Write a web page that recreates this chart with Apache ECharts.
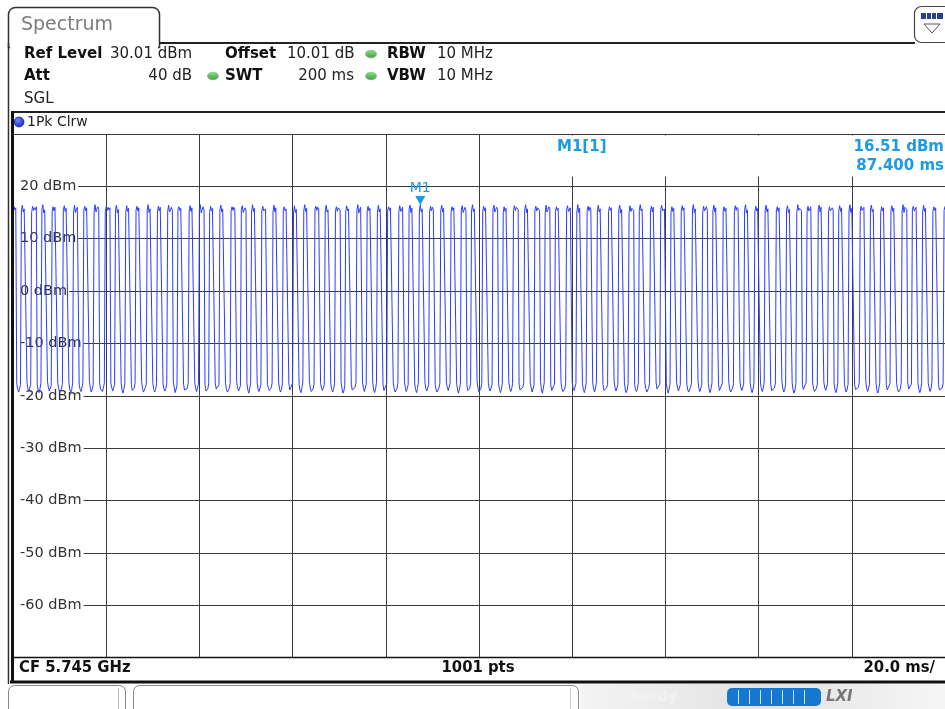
<!DOCTYPE html>
<html>
<head>
<meta charset="utf-8">
<script src="https://cdn.jsdelivr.net/npm/echarts@6/dist/echarts.min.js"></script>
<style>
html,body{margin:0;padding:0;background:#fff;}
#chart{width:945px;height:709px;}
</style>
</head>
<body>
<div id="chart"></div>
<script>
// ---- Data ----
const sweepTimeMs = 200;          // 10 div x 20.0 ms/
const sweepPoints = 1001;         // "1001 pts"
const yTicksDbm = [-70, -60, -50, -40, -30, -20, -10, 0, 10, 20, 30];
const xTicksMs = [0, 20, 40, 60, 80, 100, 120, 140, 160, 180, 200];
const markerTimeMs = 87.4;
const markerLevelDbm = 16.51;
const headerLabels = ['Ref Level', 'Offset', 'RBW', 'Att', 'SWT', 'VBW', 'SGL'];
const headerValues = ['30.01 dBm', '10.01 dB', '10 MHz', '40 dB', '200 ms', '10 MHz'];
const footerLabels = ['CF 5.745 GHz', '1001 pts', '20.0 ms/'];
// Trace 1 (1Pk Clrw), dBm, one sweep point per entry
const traceDbm = [
15.8,16.2,15.5,15.9,-17.6,-18.8,-19.3,-18.7,-17.9,
15.3,16.4,15.1,15.7,16.0,15.6,-17.4,-18.7,-19.2,-18.9,-17.8,
15.0,16.2,15.4,15.9,15.5,16.1,-17.9,-19.0,-19.4,-18.6,-17.5,
15.6,16.5,14.9,15.5,15.8,15.4,-17.2,-18.5,-19.1,-19.0,-18.1,
15.2,16.1,15.3,16.0,15.7,15.9,-17.6,-18.6,-19.3,-19.1,-18.7,-17.7,
15.4,16.3,15.2,15.8,15.9,15.5,-17.5,-18.9,-19.4,-18.8,-17.6,
15.1,16.4,15.0,15.6,16.0,15.7,-17.8,-18.8,-19.2,-18.5,-17.4,
15.5,16.2,15.3,15.9,15.6,15.8,-17.3,-18.6,-19.3,-19.1,-18.0,
15.3,16.5,15.1,15.7,16.1,15.6,-17.7,-18.7,-19.0,-19.2,-18.5,-17.6,
15.2,16.1,15.4,16.0,15.5,15.9,-17.6,-18.5,-19.1,-18.9,-17.9,
15.6,16.4,14.9,15.6,15.8,15.5,-17.4,-18.9,-19.5,-18.7,-17.7,
15.0,16.3,15.2,15.8,16.0,15.7,-17.9,-19.0,-19.2,-18.6,-17.5,
15.4,16.2,15.3,15.9,15.6,16.0,-17.3,-18.6,-19.3,-19.0,-18.4,-17.8,
15.5,16.5,15.0,15.7,15.9,15.6,-17.5,-18.8,-19.3,-18.8,-17.7,
15.1,16.2,15.3,16.0,15.7,15.8,-17.7,-18.7,-19.1,-18.6,-17.6,
15.3,16.4,15.1,15.5,16.0,15.4,-17.2,-18.5,-19.4,-19.1,-18.0,
15.6,16.1,15.4,15.8,15.6,15.9,-17.8,-18.9,-19.2,-19.0,-18.6,-17.5,
15.2,16.3,15.2,15.9,15.8,15.7,-17.4,-18.6,-19.2,-18.9,-17.8,
15.4,16.5,14.9,15.6,16.1,15.5,-17.9,-19.1,-19.4,-18.7,-17.6,
15.0,16.2,15.3,15.8,15.7,15.9,-17.5,-18.7,-19.0,-18.8,-17.9,
15.5,16.4,15.1,15.7,15.9,15.6,-17.6,-18.8,-19.3,-19.2,-18.6,-17.7,
15.3,16.1,15.4,16.0,15.6,15.8,-17.3,-18.5,-19.1,-19.0,-18.1,
15.6,16.3,15.0,15.5,15.9,15.4,-17.7,-18.9,-19.5,-18.6,-17.5,
15.1,16.5,15.2,15.8,16.0,15.7,-17.5,-18.8,-19.2,-18.9,-17.8,
15.4,16.2,15.3,15.6,15.7,16.0,-17.8,-18.6,-19.0,-19.1,-18.5,-17.6,
15.2,16.4,15.1,15.9,15.8,15.6,-17.4,-18.7,-19.3,-18.8,-17.7,
15.5,16.1,15.3,15.7,16.0,15.8,-17.6,-18.9,-19.1,-18.7,-17.6,
15.0,16.3,15.0,15.6,15.7,15.5,-17.9,-19.0,-19.4,-18.5,-17.4,
15.3,16.5,15.2,15.8,15.9,15.7,-17.2,-18.5,-19.2,-19.0,-18.7,-17.8,
15.6,16.2,15.4,16.0,15.6,15.9,-17.5,-18.6,-19.0,-18.9,-17.9,
15.1,16.4,15.1,15.5,15.8,15.6,-17.7,-18.8,-19.3,-18.8,-17.6,
15.4,16.1,15.2,15.9,16.1,15.4,-17.3,-18.7,-19.5,-19.1,-18.0,
15.2,16.3,15.3,15.7,15.7,15.8,-17.8,-18.9,-19.1,-18.6,-18.4,-17.5,
15.5,16.5,14.9,15.6,16.0,15.7,-17.4,-18.5,-19.2,-18.9,-17.8,
15.3,16.2,15.3,15.8,15.9,15.5,-17.6,-18.9,-19.4,-18.7,-17.5,
15.0,16.4,15.1,15.7,15.6,16.0,-17.9,-19.0,-19.1,-18.8,-17.7,
15.4,16.1,15.4,15.9,15.8,15.6,-17.5,-18.7,-19.3,-19.2,-18.6,-17.6,
15.2,16.3,15.2,15.6,16.0,15.8,-17.3,-18.6,-19.2,-18.9,-17.9,
15.6,16.4,15.0,15.8,15.7,15.5,-17.7,-18.8,-19.4,-18.6,-17.4,
15.3,16.51,15.1,15.7,15.9,15.6,-17.5,-18.7,-19.1,-18.9,-17.8,
15.1,16.2,15.3,16.0,15.6,15.9,-17.8,-18.9,-19.3,-19.0,-18.5,-17.7,
15.4,16.4,15.1,15.8,15.9,15.7,-17.4,-18.5,-19.0,-18.8,-17.6,
15.0,16.1,15.4,15.9,15.6,15.6,-17.6,-18.9,-19.5,-18.7,-17.8,
15.5,16.3,15.0,15.5,16.0,15.4,-17.9,-19.0,-19.2,-18.6,-17.5,
15.3,16.5,15.2,15.7,15.8,15.8,-17.3,-18.6,-19.3,-19.1,-18.6,-17.6,
15.2,16.2,15.3,15.9,15.7,15.9,-17.5,-18.7,-19.1,-18.9,-17.9,
15.6,16.4,15.1,15.6,16.0,15.5,-17.7,-18.8,-19.4,-18.8,-17.6,
15.1,16.1,15.2,15.8,15.6,15.7,-17.4,-18.6,-19.2,-18.7,-17.7,
15.4,16.3,15.4,16.0,15.9,15.6,-17.8,-18.9,-19.0,-19.2,-18.4,-17.5,
15.3,16.5,15.0,15.7,15.8,15.8,-17.6,-18.5,-19.3,-19.0,-18.0,
15.5,16.2,15.3,15.9,15.6,15.4,-17.3,-18.9,-19.5,-18.6,-17.5,
15.0,16.4,15.1,15.6,16.1,15.7,-17.9,-19.0,-19.1,-18.8,-17.8,
15.2,16.1,15.4,15.8,15.7,15.9,-17.5,-18.7,-19.2,-19.1,-18.7,-17.6,
15.6,16.3,15.2,15.5,15.9,15.6,-17.4,-18.6,-19.0,-18.9,-17.7,
15.1,16.5,15.0,15.8,15.8,15.8,-17.7,-18.8,-19.4,-18.7,-17.6,
15.4,16.2,15.3,16.0,15.6,15.5,-17.6,-18.7,-19.3,-18.5,-17.4,
15.3,16.4,15.1,15.7,16.0,15.7,-17.8,-19.0,-19.2,-19.0,-18.5,-17.8,
15.2,16.1,15.4,15.9,15.7,15.9,-17.3,-18.5,-19.1,-18.8,-17.9,
15.5,16.4,14.9,15.6,15.9,15.6,-17.5,-18.9,-19.4,-18.9,-17.7,
15.0,16.3,15.2,15.8,15.6,15.4,-17.9,-18.8,-19.2,-18.6,-17.5,
15.4,16.5,15.3,15.7,15.8,15.8,-17.6,-18.6,-19.3,-19.2,-18.6,-17.6,
15.3,16.2,15.1,16.0,15.9,15.7,-17.4,-18.7,-19.0,-18.9,-17.8,
15.6,16.4,15.3,15.5,15.7,15.5,-17.7,-18.8,-19.5,-18.7,-17.6,
15.1,16.1,15.2,15.8,16.0,15.9,-17.5,-18.5,-19.1,-18.8,-17.9,
15.2,16.3,15.4,15.9,15.6,15.6,-17.8,-18.9,-19.3,-19.0,-18.4,-17.5,
15.5,16.5,15.0,15.7,15.8,15.8,-17.3,-18.6,-19.2,-19.0,-18.0,
15.0,16.2,15.3,15.6,16.1,15.4,-17.6,-18.9,-19.4,-18.6,-17.5,
15.4,16.4,15.1,15.9,15.7,15.7,-17.9,-19.0,-19.1,-18.8,-17.7,
15.3,16.1,15.2,15.8,15.9,15.9,-17.5,-18.7,-19.3,-19.1,-18.6,-17.7,
15.2,16.3,15.4,16.0,15.6,15.6,-17.4,-18.5,-19.0,-18.9,-17.8,
15.6,16.5,14.9,15.5,15.8,15.8,-17.7,-18.8,-19.4,-18.7,-17.6,
15.1,16.2,15.3,15.8,16.0,15.5,-17.6,-18.7,-19.2,-18.5,-17.4,
15.4,16.4,15.1,15.7,15.7,15.7,-17.8,-19.0,-19.1,-19.2,-18.5,-17.6,
15.3,16.1,15.2,15.9,15.9,15.9,-17.3,-18.6,-19.3,-18.8,-17.9,
15.5,16.3,15.0,15.6,15.6,15.6,-17.5,-18.9,-19.5,-18.9,-17.7,
15.0,16.5,15.4,15.8,15.8,15.4,-17.9,-18.8,-19.1,-18.6,-17.5,
15.2,16.2,15.3,15.7,16.1,15.8,-17.6,-18.7,-19.2,-19.0,-18.6,-17.8,
15.6,16.4,15.1,16.0,15.7,15.7,-17.4,-18.5,-19.0,-18.9,-17.7,
15.1,16.1,15.3,15.5,15.9,15.5,-17.7,-18.9,-19.4,-18.7,-17.6,
15.4,16.3,15.2,15.9,15.6,15.9,-17.5,-18.7,-19.3,-18.8,-17.8,
15.3,16.5,15.0,15.8,15.8,15.6,-17.8,-18.8,-19.1,-19.1,-18.4,-17.5,
15.2,16.2,15.4,15.7,16.0,15.8,-17.3,-18.6,-19.2,-18.9,-17.9,
15.5,16.4,15.1,15.6,15.7,15.4,-17.6,-19.0,-19.5,-18.6,-17.5,
15.0,16.1,15.3,15.9,15.9,15.7,-17.9,-18.9,-19.1,-18.8,-17.7,
15.4,16.3,15.2,15.8,15.6,15.9,-17.5,-18.6,-19.3,-19.2,-18.7,-17.6,
15.3,16.5,15.0,16.0,15.8,15.6,-17.4,-18.7,-19.0,-18.9,-17.8,
15.6,16.2,15.3,15.5,16.0,15.8,-17.7,-18.8,-19.4,-18.7,-17.6,
15.1,16.4,15.2,15.8,15.7,15.5,-17.6,-18.5,-19.2,-18.6,-17.4,
15.2,16.1,15.4,15.9,15.9,15.7,-17.8,-18.9,-19.1,-19.0,-18.5,-17.7,
15.4,16.2
];

// ---- Build series data: sweep point index -> time on the time axis ----
const stepMs = sweepTimeMs / (sweepPoints - 1);
const seriesData = traceDbm.map((v, i) => [i * stepMs, v]);

const UI = 'DejaVu Sans, Verdana, sans-serif';
const COND = '"DejaVu Sans Condensed", ' + UI;
const markerBlue = '#1b9be0';

const chart = echarts.init(document.getElementById('chart'), null, {renderer: 'canvas'});

function txt(x, y, text, opt) {
  return {
    type: 'text', x: x, y: y, z: 100,
    style: Object.assign({text: text, fill: '#111', font: '15px ' + UI, textVerticalAlign: 'middle', textAlign: 'left'}, opt || {})
  };
}
function greenDot(cx, cy) {
  return {type: 'circle', z: 100, x: cx, y: cy, scaleY: 0.7, shape: {cx: 0, cy: 0, r: 5.5},
    style: {fill: new echarts.graphic.LinearGradient(0, 0, 0, 1, [{offset: 0, color: '#8fdc8f'}, {offset: 1, color: '#3f9f3f'}]), stroke: '#4b9a4b', lineWidth: 0.5}};
}
function line(x1, y1, x2, y2, color, w, z) {
  return {type: 'line', z: z || 90, shape: {x1: x1, y1: y1, x2: x2, y2: y2}, style: {stroke: color, lineWidth: w}};
}

const graphics = [
  // tab "Spectrum"
  {type: 'rect', z: 90, shape: {x: 8.5, y: 7.5, width: 151, height: 40, r: [7, 7, 0, 0]}, style: {fill: '#fff', stroke: '#333', lineWidth: 1.5}},
  {type: 'rect', z: 91, shape: {x: 10, y: 44.5, width: 148, height: 5}, style: {fill: '#fff'}},
  txt(21, 25, 'Spectrum', {fill: '#7d7d7d', font: '19px ' + UI}),
  line(159, 43, 915, 43, '#222', 2),
  line(8.5, 43, 8.5, 684, '#333', 1.5),
  // top-right small tab
  {type: 'rect', z: 90, shape: {x: 914.5, y: 6.5, width: 40, height: 36, r: 7}, style: {fill: '#fff', stroke: '#444', lineWidth: 1.2}},
  {type: 'rect', z: 91, shape: {x: 921, y: 13, width: 22, height: 6}, style: {fill: '#2a3f8f'}},
  line(926.5, 13, 926.5, 19, '#fff', 1, 92), line(931.5, 13, 931.5, 19, '#fff', 1, 92), line(936.5, 13, 936.5, 19, '#fff', 1, 92),
  {type: 'polygon', z: 91, shape: {points: [[924, 24], [940, 24], [932, 33]]}, style: {fill: '#fff', stroke: '#556', lineWidth: 1}},
  // header parameters
  txt(24, 54, headerLabels[0], {font: 'bold 15px ' + UI}),
  txt(110, 54, headerValues[0], {fill: '#222'}),
  txt(225, 54, headerLabels[1], {font: 'bold 15px ' + UI}),
  txt(287, 54, headerValues[1], {fill: '#222'}),
  greenDot(371, 54),
  txt(387, 54, headerLabels[2], {font: 'bold 15px ' + UI}),
  txt(437, 54, headerValues[2], {fill: '#222'}),
  txt(24, 76, headerLabels[3], {font: 'bold 15px ' + UI}),
  txt(192, 76, headerValues[3], {fill: '#222', textAlign: 'right'}),
  greenDot(213, 76),
  txt(225, 76, headerLabels[4], {font: 'bold 15px ' + UI}),
  txt(354, 76, headerValues[4], {fill: '#222', textAlign: 'right'}),
  greenDot(371, 76),
  txt(387, 76, headerLabels[5], {font: 'bold 15px ' + UI}),
  txt(437, 76, headerValues[5], {fill: '#222'}),
  txt(24, 99, headerLabels[6], {fill: '#222'}),
  // trace window frame
  line(12, 112, 946, 112, '#222', 2),
  line(12.5, 111, 12.5, 683, '#111', 3, 95),
  {type: 'circle', z: 100, shape: {cx: 19, cy: 122, r: 5},
    style: {fill: new echarts.graphic.RadialGradient(0.4, 0.35, 0.7, [{offset: 0, color: '#6f8cff'}, {offset: 1, color: '#0a1fd0'}]), stroke: '#112', lineWidth: 0.6}},
  txt(27, 122, '1Pk Clrw', {fill: '#222', font: '14px ' + UI}),
  // blank marker info area over the grid
  {type: 'rect', z: 50, shape: {x: 481.5, y: 135.5, width: 470, height: 41}, style: {fill: '#fff'}},
  txt(557, 147, 'M1[1]', {fill: markerBlue, font: 'bold 15px ' + UI}),
  txt(944, 147, markerLevelDbm.toFixed(2) + ' dBm', {fill: markerBlue, font: 'bold 15px ' + UI, textAlign: 'right'}),
  txt(944, 166, markerTimeMs.toFixed(3) + ' ms', {fill: markerBlue, font: 'bold 15px ' + UI, textAlign: 'right'}),
  // bottom info row
  line(12, 657.5, 946, 657.5, '#111', 1.5),
  line(10, 682, 946, 682, '#111', 3),
  txt(19, 668, footerLabels[0], {font: 'bold 16.5px ' + COND}),
  txt(478, 668, footerLabels[1], {font: 'bold 16.5px ' + COND, textAlign: 'center'}),
  txt(935, 668, footerLabels[2], {font: 'bold 16.5px ' + COND, textAlign: 'right'}),
  // status bar
  {type: 'rect', z: 80, shape: {x: 580, y: 684, width: 366, height: 26},
    style: {fill: new echarts.graphic.LinearGradient(0, 0, 1, 0, [{offset: 0, color: '#f4f4f4'}, {offset: 0.5, color: '#e2e2e2'}, {offset: 1, color: '#f6f6f6'}])}},
  {type: 'rect', z: 90, shape: {x: 8.5, y: 685.5, width: 117, height: 30, r: 6}, style: {fill: '#fff', stroke: '#888', lineWidth: 1}},
  line(118.5, 688, 118.5, 709, '#bbb', 1, 91),
  {type: 'rect', z: 90, shape: {x: 133.5, y: 685.5, width: 445, height: 30, r: 6}, style: {fill: '#fff', stroke: '#888', lineWidth: 1}},
  line(570.5, 688, 570.5, 709, '#ccc', 1, 91),
  txt(628, 697, 'Ready', {fill: '#f2f2f2', font: 'bold 14px ' + UI}),
  {type: 'rect', z: 90, shape: {x: 727, y: 688, width: 94, height: 18, r: 5}, style: {fill: '#1478d0'}},
  line(738.5, 690, 738.5, 704, '#cfe4f7', 1, 91), line(749.5, 690, 749.5, 704, '#cfe4f7', 1, 91),
  line(760.5, 690, 760.5, 704, '#cfe4f7', 1, 91), line(771.5, 690, 771.5, 704, '#cfe4f7', 1, 91),
  line(782.5, 690, 782.5, 704, '#cfe4f7', 1, 91), line(793.5, 690, 793.5, 704, '#cfe4f7', 1, 91),
  line(804.5, 690, 804.5, 704, '#cfe4f7', 1, 91),
  txt(826, 697, 'LXI', {fill: '#777', font: 'italic bold 15px ' + UI})
];

const option = {
  animation: false,
  backgroundColor: '#fff',
  grid: {left: 13, top: 134, width: 933, height: 523.5, containLabel: false},
  xAxis: {
    type: 'value', min: xTicksMs[0], max: xTicksMs[xTicksMs.length - 1], interval: xTicksMs[1] - xTicksMs[0],
    axisLine: {show: false}, axisTick: {show: false}, axisLabel: {show: false},
    splitLine: {show: true, lineStyle: {color: '#3c3c3c', width: 1}}
  },
  yAxis: {
    type: 'value', min: yTicksDbm[0], max: yTicksDbm[yTicksDbm.length - 1], interval: yTicksDbm[1] - yTicksDbm[0],
    axisLine: {show: false}, axisTick: {show: false},
    axisLabel: {
      inside: true, margin: 0, showMinLabel: false, showMaxLabel: false,
      formatter: v => v + ' dBm', color: '#333', fontFamily: UI, fontSize: 14.5,
      backgroundColor: '#fff', padding: [0, 2, 0, 7]
    },
    splitLine: {show: true, lineStyle: {color: '#3c3c3c', width: 1}}
  },
  series: [{
    type: 'line', data: seriesData, showSymbol: false, sampling: null,
    lineStyle: {color: '#2c3cff', width: 1}, z: 5,
    markPoint: {
      symbol: 'path://M0,0 L10,0 L5,8 Z', symbolSize: [10, 9], symbolOffset: [0, -4],
      itemStyle: {color: markerBlue},
      label: {show: true, position: 'top', distance: 1, formatter: 'M1', color: markerBlue, fontFamily: UI, fontSize: 14},
      data: [{coord: [markerTimeMs, markerLevelDbm]}]
    }
  }],
  graphic: graphics
};
chart.setOption(option);
</script>
</body>
</html>
